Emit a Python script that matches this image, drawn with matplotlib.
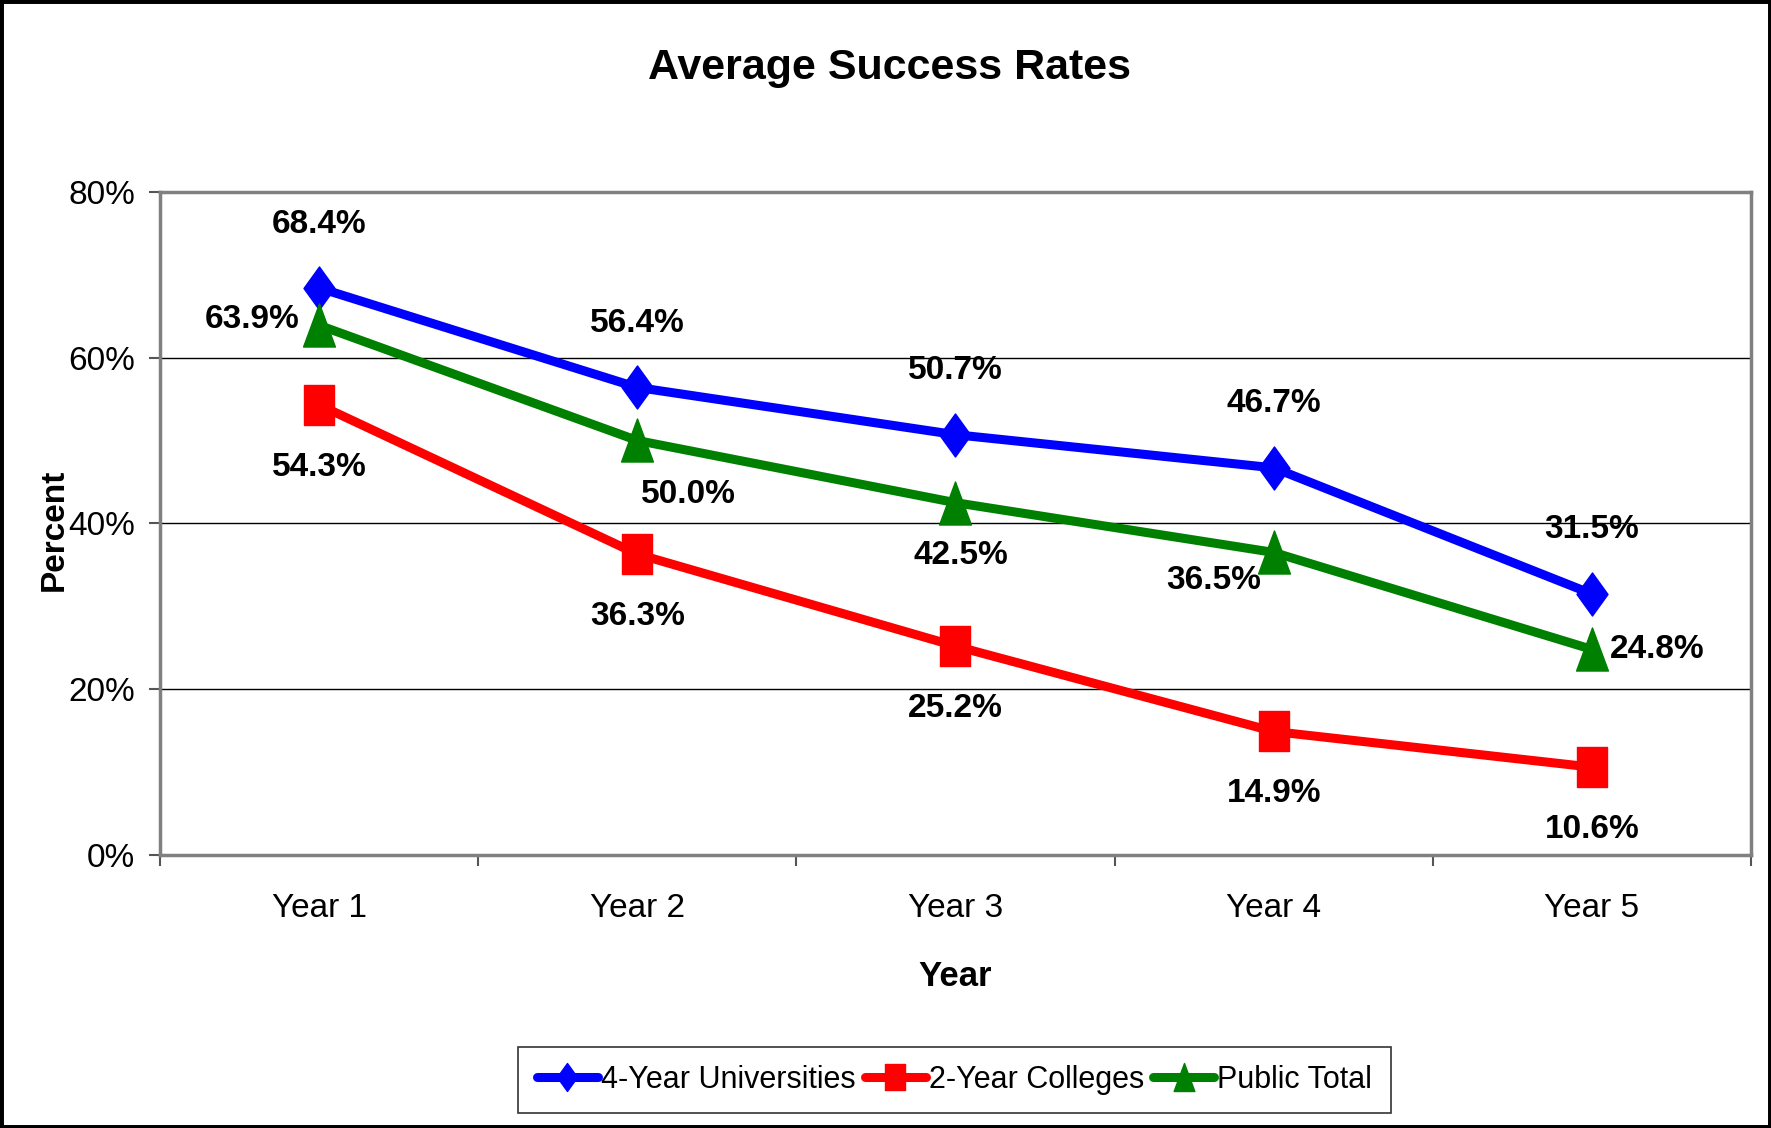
import matplotlib
matplotlib.use("Agg")
import matplotlib.pyplot as plt
from matplotlib.patches import Rectangle
from matplotlib.path import Path
from matplotlib.ticker import FixedLocator, FuncFormatter

plt.rcParams['font.family'] = ['Liberation Sans', 'DejaVu Sans']

years = ["Year 1", "Year 2", "Year 3", "Year 4", "Year 5"]
univ_4yr = [68.4, 56.4, 50.7, 46.7, 31.5]
coll_2yr = [54.3, 36.3, 25.2, 14.9, 10.6]
public_total = [63.9, 50.0, 42.5, 36.5, 24.8]
y_ticks = [0, 20, 40, 60, 80]

# label offsets in points (dx, dy) per series
off_univ = [(0, 46)] * 5
off_coll = [(0, -45)] * 5
off_pub = [(-48, 4), (37, -39), (4, -38), (-43, -20), (47, 0)]

# markers are a bit taller than wide in the original
diamond = Path([(0, 1), (0.72, 0), (0, -1), (-0.72, 0), (0, 1)], closed=True)
square = Path([(-0.75, -1), (0.75, -1), (0.75, 1), (-0.75, 1), (-0.75, -1)], closed=True)
triangle = Path([(0, 1), (0.74, -1), (-0.74, -1), (0, 1)], closed=True)

fig = plt.figure(figsize=(17.71, 11.28), dpi=100)
ax = fig.add_axes([0.0903, 0.242, 0.8984, 0.588])

x = range(len(years))
series = [
    ("4-Year Universities", univ_4yr, "#0000FF", diamond, 31, off_univ),
    ("2-Year Colleges", coll_2yr, "#FF0000", square, 29, off_coll),
    ("Public Total", public_total, "#008000", triangle, 31, off_pub),
]
for name, vals, col, mk, ms, offs in series:
    ax.plot(x, vals, color=col, lw=6.5, marker=mk, ms=ms, label=name,
            solid_capstyle='round')
    for i, v in enumerate(vals):
        ax.annotate(f"{v:.1f}%", (i, v), xytext=offs[i], textcoords='offset points',
                    ha='center', va='center', fontsize=24, fontweight='bold')

ax.set_xlim(-0.5, len(years) - 0.5)
ax.set_ylim(0, 80)
ax.yaxis.set_major_locator(FixedLocator(y_ticks))
ax.yaxis.set_major_formatter(FuncFormatter(lambda v, p: f"{v:.0f}%"))
ax.grid(axis='y', color='black', lw=1)
ax.set_axisbelow(True)

# ticks at category boundaries, labels centered
ax.xaxis.set_major_locator(FixedLocator([i - 0.5 for i in range(len(years) + 1)]))
ax.xaxis.set_minor_locator(FixedLocator(list(x)))
ax.set_xticklabels([""] * (len(years) + 1))
ax.set_xticklabels(years, minor=True)
ax.tick_params(axis='x', which='major', length=8, width=1.5, color='#555555')
ax.tick_params(axis='x', which='minor', length=0, pad=27, labelsize=24)
ax.tick_params(axis='y', length=8, width=1.5, color='#555555', pad=10, labelsize=24)

for s in ax.spines.values():
    s.set_color('#808080')
    s.set_linewidth(2.5)

ax.set_xlabel("Year", fontsize=25, fontweight='bold', labelpad=26)
fig.text(0.0305, 0.53, "Percent", rotation=90, fontsize=24, fontweight='bold',
         ha='center', va='center')
fig.text(0.502, 0.94, "Average Success Rates", fontsize=31, fontweight='bold',
         ha='center', va='center')

leg = fig.legend(loc='center', bbox_to_anchor=(0.539, 0.0426), ncol=3, fontsize=22,
                 frameon=True, fancybox=False, edgecolor='black', handlelength=2.0,
                 handletextpad=0.1, columnspacing=0.3, borderpad=0.6, markerscale=0.65)
leg.get_frame().set_linewidth(1.2)

fig.patches.append(Rectangle((0, 0), 1, 1, transform=fig.transFigure, fill=False,
                             edgecolor='black', lw=5))

fig.savefig("out.png", dpi=100)
